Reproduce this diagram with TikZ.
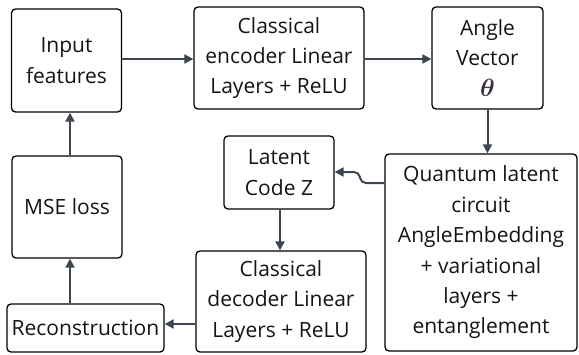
\documentclass[tikz,border=0pt]{standalone}
\usepackage{fontspec}
\setmainfont{Open Sans}
\usepackage{amsmath,bm}
\usetikzlibrary{arrows.meta}
\definecolor{arrc}{HTML}{3D4550}
\definecolor{txt}{HTML}{141414}
\definecolor{thc}{HTML}{3A3040}
\tikzset{
  box/.style={draw=black, line width=1.3pt, rounded corners=4pt, align=center,
    inner sep=0pt, font=\fontsize{21}{30.4}\selectfont, text=txt},
  arr/.style={draw=arrc, line width=2pt, -{Triangle[length=9pt,width=9pt]}}
}
\begin{document}
\begin{tikzpicture}[x=1pt,y=-1pt]
\useasboundingbox (0,0) rectangle (579,354);
\node[box, minimum width=110pt, minimum height=103pt] (in) at (66.5,60.5) {Input\\features};
\node[box, minimum width=170pt, minimum height=102pt] (enc) at (279,58) {Classical\\encoder Linear\\Layers + ReLU};
\node[box, minimum width=111pt, minimum height=102pt] (ang) at (487.5,58) {Angle\\Vector\\\textcolor{thc}{\fontsize{25}{30.4}\selectfont$\bm{\theta}$}};
\node[box, minimum width=192pt, minimum height=197pt] (q) at (481,252.5) {Quantum latent\\circuit\\AngleEmbedding\\+ variational\\layers +\\entanglement};
\node[box, minimum width=110pt, minimum height=73pt] (lat) at (279,172.5) {Latent\\Code Z};
\node[box, minimum width=170pt, minimum height=101pt] (dec) at (281,301.5) {Classical\\decoder Linear\\Layers + ReLU};
\node[box, minimum width=110pt, minimum height=102pt] (mse) at (67,207) {MSE loss};
\node[box, minimum width=157pt, minimum height=48pt] (rec) at (85.5,328) {Reconstruction};
\draw[arr] (in.east |- 0,59) -- (enc.west |- 0,59);
\draw[arr] (enc.east |- 0,59) -- (ang.west |- 0,59);
\draw[arr] (ang.south) -- (q.north -| ang.south);
\coordinate (qs) at (q.west |- 0,183);
\draw[arr, rounded corners=5pt] (qs) -- (361,183) -- (359,172) -- (lat.east |- 0,172);
\draw[arr] (lat.south -| 280,0) -- (dec.north -| 280,0);
\draw[arr] (dec.west |- 0,324) -- (rec.east |- 0,324);
\draw[arr] (rec.north -| 70,0) -- (mse.south -| 70,0);
\draw[arr] (mse.north -| 70,0) -- (in.south -| 70,0);
\end{tikzpicture}
\end{document}
